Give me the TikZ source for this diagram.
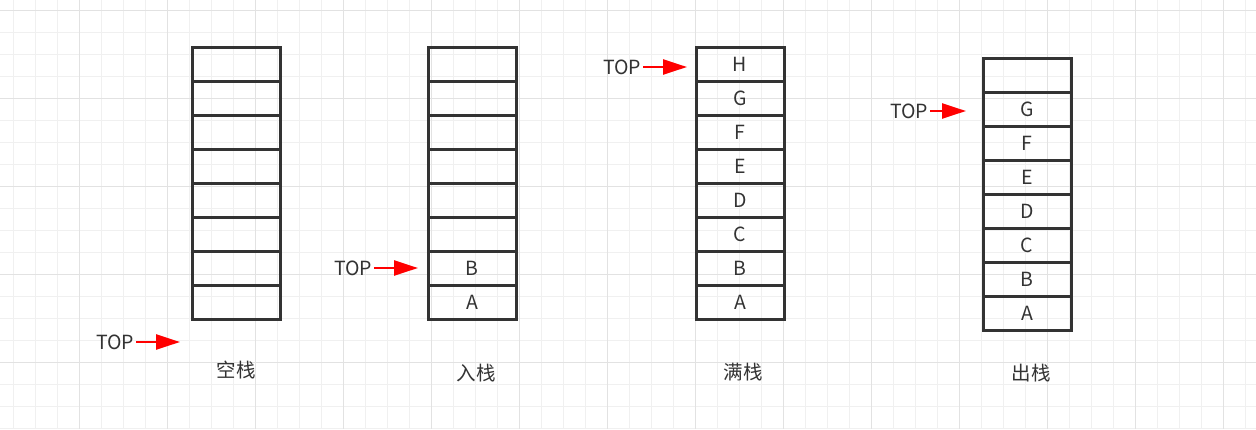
\documentclass[tikz,border=0pt]{standalone}
\usepackage{fontspec}
\setmainfont{Noto Sans CJK SC}
\usetikzlibrary{arrows.meta}
\definecolor{boxgray}{HTML}{333333}
\definecolor{minorgrid}{HTML}{F0F0F0}
\definecolor{majorgrid}{HTML}{E2E2E2}
\definecolor{topred}{HTML}{FF0000}

\begin{document}
\begin{tikzpicture}[x=1pt, y=-1pt, font=\fontsize{19.5}{22}\selectfont, text=boxgray,
  cell node/.style={draw=boxgray, line width=3pt, minimum width=88pt, minimum height=34pt, inner sep=0pt},
  top node/.style={inner sep=2pt},
  top arrow/.style={-{Triangle[length=24pt,width=15pt]}, topred, line width=2.5pt},
  label node/.style={inner sep=0pt}]

\useasboundingbox (0,0) rectangle (1256,429);
\fill[white] (0,0) rectangle (1256,429);

% background grid
\foreach \i in {0,...,56} \draw[minorgrid, line width=1pt] (13+22*\i,0) -- (13+22*\i,429);
\foreach \j in {0,...,19} \draw[minorgrid, line width=1pt] (0,10+22*\j) -- (1256,10+22*\j);
\foreach \i in {0,...,13} \draw[majorgrid, line width=1pt] (79+88*\i,0) -- (79+88*\i,429);
\foreach \j in {0,...,4} \draw[majorgrid, line width=1pt] (0,10+88*\j) -- (1256,10+88*\j);

% empty stack
\node[cell node] (a7) at (236,64) {};
\node[cell node] (a6) at (236,98) {};
\node[cell node] (a5) at (236,132) {};
\node[cell node] (a4) at (236,166) {};
\node[cell node] (a3) at (236,200) {};
\node[cell node] (a2) at (236,234) {};
\node[cell node] (a1) at (236,268) {};
\node[cell node] (a0) at (236,302) {};

% push
\node[cell node] (b7) at (472,64) {};
\node[cell node] (b6) at (472,98) {};
\node[cell node] (b5) at (472,132) {};
\node[cell node] (b4) at (472,166) {};
\node[cell node] (b3) at (472,200) {};
\node[cell node] (b2) at (472,234) {};
\node[cell node] (b1) at (472,268) {B};
\node[cell node] (b0) at (472,302) {A};

% full stack
\node[cell node] (c7) at (740,64) {H};
\node[cell node] (c6) at (740,98) {G};
\node[cell node] (c5) at (740,132) {F};
\node[cell node] (c4) at (740,166) {E};
\node[cell node] (c3) at (740,200) {D};
\node[cell node] (c2) at (740,234) {C};
\node[cell node] (c1) at (740,268) {B};
\node[cell node] (c0) at (740,302) {A};

% pop
\node[cell node] (d7) at (1027,75) {};
\node[cell node] (d6) at (1027,109) {G};
\node[cell node] (d5) at (1027,143) {F};
\node[cell node] (d4) at (1027,177) {E};
\node[cell node] (d3) at (1027,211) {D};
\node[cell node] (d2) at (1027,245) {C};
\node[cell node] (d1) at (1027,279) {B};
\node[cell node] (d0) at (1027,313) {A};

\node[label node] (l1) at (236,370) {空栈};
\node[label node] (l2) at (476,373) {入栈};
\node[label node] (l3) at (743,372) {满栈};
\node[label node] (l4) at (1031,373) {出栈};

\node[top node] (t1) at (115,342) {TOP};
\node[top node] (t2) at (353,268) {TOP};
\node[top node] (t3) at (622,67) {TOP};
\node[top node] (t4) at (909,111) {TOP};
\coordinate (p1) at (180,342);
\coordinate (p2) at (418,268);
\coordinate (p3) at (687,67);
\coordinate (p4) at (966,111);

\path[] (t1) [top arrow] edge node [] {} (p1);
\path[] (t2) [top arrow] edge node [] {} (p2);
\path[] (t3) [top arrow] edge node [] {} (p3);
\path[] (t4) [top arrow] edge node [] {} (p4);
\end{tikzpicture}
\end{document}
